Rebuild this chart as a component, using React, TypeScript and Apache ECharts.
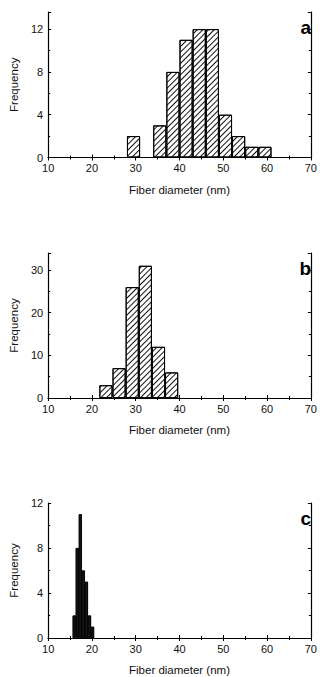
import React, { useEffect, useRef } from "react";
import * as echarts from "echarts";

// Panel a
const binStartA = [28, 34, 37, 40, 43, 46, 49, 52, 55, 58];
const countsA = [2, 3, 8, 11, 12, 12, 4, 2, 1, 1];
const binWidthA = 3;
// Panel b
const binStartB = [21.7, 24.7, 27.7, 30.7, 33.7, 36.7];
const countsB = [3, 7, 26, 31, 12, 6];
const binWidthB = 3;
// Panel c
const binStartC = [15.6, 16.3, 17.0, 17.7, 18.4, 19.1, 19.8];
const countsC = [2, 8, 11, 6, 5, 2, 1];
const binWidthC = 0.7;

const xRange = [10, 70];
const xInterval = 10;
const yMaxes = [13.6, 34, 12];
const yIntervals = [4, 10, 4];
const panelLetters = ["a", "b", "c"];
const xTitle = "Fiber diameter (nm)";
const yTitle = "Frequency";

const FONT = "Liberation Sans";

const grids = [
  { left: 46, right: 2, top: 12, height: 145.5 },
  { left: 46, right: 2, top: 253, height: 145 },
  { left: 46, right: 2, top: 503, height: 136 },
];

function toData(starts: number[], counts: number[], w: number) {
  return starts.map((s, i) => [+(s + w / 2).toFixed(3), counts[i]]);
}

export default function App() {
  const ref = useRef<HTMLDivElement>(null);
  useEffect(() => {
    document.body.style.margin = "0";
    const chart = echarts.init(ref.current!, null, { renderer: "svg" });
    const axisLine = { show: true, lineStyle: { color: "#000", width: 1.2 } };
    const tick = { show: true, inside: true, length: 3, lineStyle: { color: "#000", width: 1 } };
    const minor = { show: true, splitNumber: 2, length: 2, lineStyle: { color: "#000", width: 1 } };
    const xAxes: any[] = [];
    const yAxes: any[] = [];
    for (let g = 0; g < 3; g++) {
      const base = {
        gridIndex: g,
        type: "value",
        min: xRange[0],
        max: xRange[1],
        interval: xInterval,
        axisLine,
        axisTick: tick,
        minorTick: { ...minor },
        splitLine: { show: false },
      };
      xAxes.push({
        ...base,
        position: "bottom",
        name: xTitle,
        nameLocation: "middle",
        nameGap: 26,
        nameTextStyle: { fontFamily: FONT, fontSize: 11.5, color: "#111" },
        axisLabel: { fontFamily: FONT, fontSize: 11, color: "#111", margin: 5 },
      });
      xAxes.push({ ...base, position: "top", axisLabel: { show: false } });
      const ybase = {
        gridIndex: g,
        type: "value",
        min: 0,
        max: yMaxes[g],
        interval: yIntervals[g],
        axisLine,
        axisTick: tick,
        minorTick: { ...minor },
        splitLine: { show: false },
      };
      yAxes.push({
        ...ybase,
        position: "left",
        name: yTitle,
        nameLocation: "middle",
        nameGap: 26,
        nameTextStyle: { fontFamily: FONT, fontSize: 11.5, color: "#111" },
        axisLabel: {
          fontFamily: FONT,
          fontSize: 11,
          color: "#111",
          margin: 5,
          showMaxLabel: g === 2 ? true : false,
        },
      });
      yAxes.push({ ...ybase, position: "right", axisLabel: { show: false } });
    }
    const hatch = {
      symbol: "rect",
      symbolSize: 1,
      rotation: -Math.PI / 4,
      dashArrayX: [1, 0],
      dashArrayY: [1, 2.2],
      color: "#111",
      backgroundColor: "#fff",
    };
    const dataSets = [
      toData(binStartA, countsA, binWidthA),
      toData(binStartB, countsB, binWidthB),
      toData(binStartC, countsC, binWidthC),
    ];
    const series: any[] = dataSets.map((d, g) => ({
      type: "bar",
      xAxisIndex: g * 2,
      yAxisIndex: g * 2,
      data: d,
      barWidth: "100%",
      itemStyle:
        g < 2
          ? { color: "#fff", borderColor: "#000", borderWidth: 1, decal: hatch }
          : {
              color: "#151515",
              borderColor: "#000",
              borderWidth: 0.8,
              decal: {
                symbol: "circle",
                symbolSize: 0.5,
                dashArrayX: [1, 1.5],
                dashArrayY: [1, 1.5],
                color: "rgba(255,255,255,0.35)",
              },
            },
      silent: true,
    }));
    chart.setOption({
      animation: false,
      grid: grids,
      xAxis: xAxes,
      yAxis: yAxes,
      series,
      graphic: panelLetters.map((l, g) => ({
        type: "text",
        right: 9,
        top: grids[g].top + 6,
        style: {
          text: l,
          font: `bold 19px ${FONT}`,
          fill: "#000",
        },
      })),
    });
    return () => chart.dispose();
  }, []);
  return <div ref={ref} style={{ width: 320, height: 677 }} />;
}
